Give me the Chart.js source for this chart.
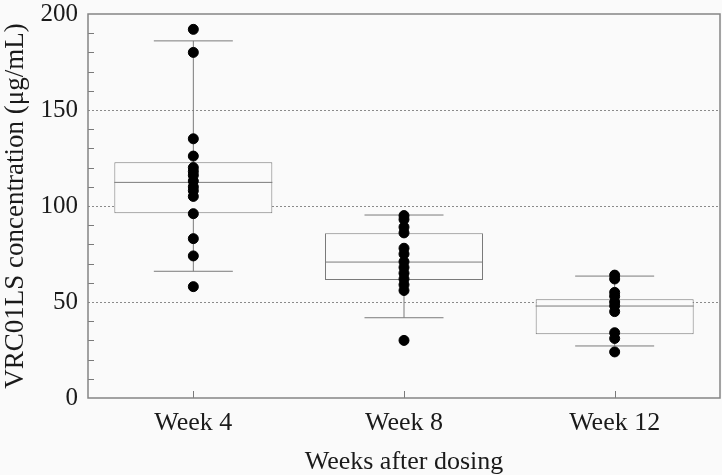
<!DOCTYPE html>
<html>
<head>
<meta charset="utf-8">
<script src="https://cdn.jsdelivr.net/npm/chart.js@4/dist/chart.umd.min.js"></script>
<style>
  html, body { margin: 0; padding: 0; background: #fafafa; }
  #wrap { width: 722px; height: 475px; position: relative; }
</style>
</head>
<body>
<div id="wrap"><canvas id="c" width="722" height="475"></canvas></div>
<script>
const categories = ['Week 4', 'Week 8', 'Week 12'];
const week4Values = [192, 180, 135, 126, 120, 118, 116, 113, 110, 108, 105, 96, 83, 74, 58];
const week8Values = [95, 93, 89, 86, 78, 75, 71, 68, 65, 62, 59, 56, 30];
const week12Values = [64, 62, 55, 53, 50, 48, 45, 34, 31, 24];
const q1 = [96.2, 61.5, 33.2];
const medians = [112.3, 70.8, 47.9];
const q3 = [122.8, 85.8, 51.4];
const whiskerLow = [66, 41.8, 27.1];
const whiskerHigh = [186, 95.3, 63.5];
const yTickLabels = [0, 50, 100, 150, 200];

const BG = '#fafafa';
const LINE = '#7a7a7a';
const FONT = "'Liberation Serif', 'DejaVu Serif', serif";

const pointData = [];
[week4Values, week8Values, week12Values].forEach((arr, i) => {
  arr.forEach(v => pointData.push({ x: categories[i], y: v }));
});

const bgPlugin = {
  id: 'bg',
  beforeDraw(chart) {
    const ctx = chart.ctx;
    ctx.save();
    ctx.fillStyle = BG;
    ctx.fillRect(0, 0, chart.width, chart.height);
    ctx.restore();
  }
};

const boxPlugin = {
  id: 'boxExtras',
  afterDatasetDraw(chart, args) {
    if (args.index !== 0) return;
    const ctx = chart.ctx;
    const x = chart.scales.x, y = chart.scales.y;
    const meta = chart.getDatasetMeta(0);
    ctx.save();
    ctx.strokeStyle = LINE;
    ctx.lineWidth = 1;
    categories.forEach((c, i) => {
      const bar = meta.data[i];
      const cx = x.getPixelForValue(i);
      const half = bar.width / 2;
      const capHalf = half * 0.5;
      const yMed = y.getPixelForValue(medians[i]);
      ctx.beginPath();
      ctx.moveTo(cx - half, yMed); ctx.lineTo(cx + half, yMed);
      ctx.moveTo(cx, y.getPixelForValue(q3[i])); ctx.lineTo(cx, y.getPixelForValue(whiskerHigh[i]));
      ctx.moveTo(cx - capHalf, y.getPixelForValue(whiskerHigh[i])); ctx.lineTo(cx + capHalf, y.getPixelForValue(whiskerHigh[i]));
      ctx.moveTo(cx, y.getPixelForValue(q1[i])); ctx.lineTo(cx, y.getPixelForValue(whiskerLow[i]));
      ctx.moveTo(cx - capHalf, y.getPixelForValue(whiskerLow[i])); ctx.lineTo(cx + capHalf, y.getPixelForValue(whiskerLow[i]));
      ctx.stroke();
    });
    ctx.restore();
  },
  afterDraw(chart) {
    const ctx = chart.ctx;
    const a = chart.chartArea;
    const x = chart.scales.x, y = chart.scales.y;
    ctx.save();
    ctx.strokeStyle = LINE;
    ctx.lineWidth = 1;
    ctx.beginPath();
    y.ticks.forEach(t => {
      if (t.value % 50 === 0) return;
      const py = Math.round(y.getPixelForValue(t.value)) + 0.5;
      ctx.moveTo(a.left, py); ctx.lineTo(a.left + 6, py);
    });
    categories.forEach((c, i) => {
      const px = Math.round(x.getPixelForValue(i)) + 0.5;
      ctx.moveTo(px, a.bottom); ctx.lineTo(px, a.bottom - 7);
    });
    ctx.stroke();
    ctx.strokeStyle = '#858585';
    ctx.lineWidth = 1.5;
    ctx.strokeRect(a.left, a.top, a.right - a.left, a.bottom - a.top);
    ctx.restore();
  }
};

new Chart(document.getElementById('c'), {
  type: 'bar',
  data: {
    labels: categories,
    datasets: [
      {
        type: 'bar',
        data: q1.map((v, i) => [v, q3[i]]),
        backgroundColor: BG,
        borderColor: LINE,
        borderWidth: 1,
        borderSkipped: false,
        barPercentage: 0.75,
        categoryPercentage: 1.0,
        order: 2
      },
      {
        type: 'scatter',
        data: pointData,
        backgroundColor: '#000',
        borderColor: '#000',
        pointRadius: 5,
        pointHoverRadius: 5,
        order: 1
      }
    ]
  },
  options: {
    responsive: false,
    animation: false,
    events: [],
    layout: { autoPadding: false, padding: { top: 14, right: 2, left: 0, bottom: 0 } },
    plugins: { legend: { display: false }, tooltip: { enabled: false } },
    scales: {
      x: {
        type: 'category',
        offset: true,
        grid: { display: false, drawTicks: false },
        border: { display: false },
        ticks: { color: '#1a1a1a', font: { family: FONT, size: 26 }, padding: 10 },
        title: { display: true, text: 'Weeks after dosing', color: '#1a1a1a', font: { family: FONT, size: 26, lineHeight: 1 }, padding: { top: 2, bottom: 0 } },
        afterFit(s) { s.height = 77; s.paddingLeft = 0; s.paddingRight = 0; s.paddingTop = 0; s.paddingBottom = 0; }
      },
      y: {
        min: 0, max: 200,
        ticks: {
          stepSize: 10,
          autoSkip: false,
          color: '#1a1a1a',
          font: { family: FONT, size: 25 },
          padding: 10,
          callback: v => (yTickLabels.includes(v) ? String(v) : '')
        },
        grid: {
          drawTicks: false,
          color: ctx => {
            const v = ctx.tick && ctx.tick.value;
            return (v === 50 || v === 100 || v === 150) ? '#8a8a8a' : 'rgba(0,0,0,0)';
          },
          lineWidth: 1
        },
        border: { display: false, dash: [2, 2] },
        title: { display: true, text: 'VRC01LS concentration (μg/mL)', color: '#1a1a1a', font: { family: FONT, size: 27 }, padding: { top: 0, bottom: 4 } },
        afterFit(s) { s.width = 88; s.paddingTop = 0; s.paddingBottom = 0; s.paddingLeft = 0; s.paddingRight = 0; }
      }
    }
  },
  plugins: [bgPlugin, boxPlugin]
});
</script>
</body>
</html>
